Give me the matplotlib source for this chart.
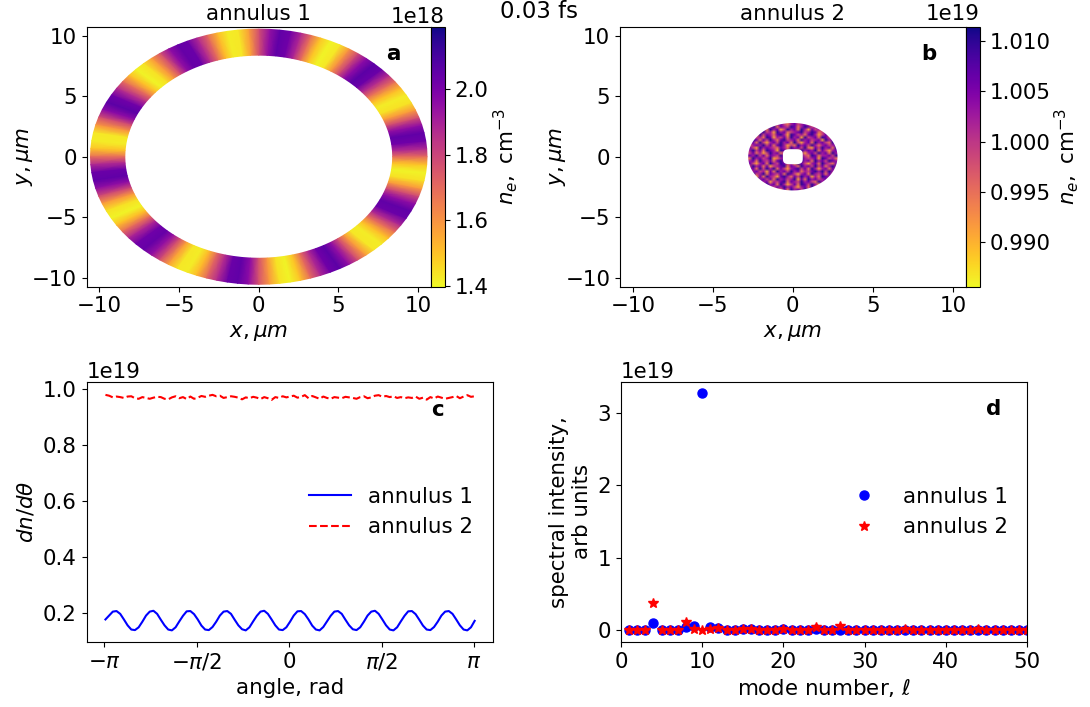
import numpy as np
import matplotlib
matplotlib.use('Agg')
import matplotlib.pyplot as plt
from matplotlib.path import Path
from matplotlib.patches import PathPatch

# electron density round annulus 1 (1e18 cm^-3)
ring_ne = [1.70, 1.88, 2.02, 2.05, 1.95, 1.77, 1.58, 1.44, 1.42, 1.51,
           1.69, 1.87, 2.03, 2.06, 1.96, 1.78, 1.59, 1.43, 1.41, 1.50,
           1.70, 1.89, 2.02, 2.05, 1.94, 1.77, 1.57, 1.43, 1.42, 1.52,
           1.71, 1.88, 2.03, 2.04, 1.95, 1.76, 1.58, 1.44, 1.41, 1.51,
           1.70, 1.87, 2.02, 2.06, 1.96, 1.77, 1.59, 1.43, 1.42, 1.50,
           1.69, 1.88, 2.03, 2.05, 1.95, 1.78, 1.58, 1.44, 1.41, 1.51,
           1.70, 1.89, 2.02, 2.04, 1.94, 1.77, 1.57, 1.43, 1.42, 1.52,
           1.71, 1.87, 2.03, 2.05, 1.96, 1.76, 1.59, 1.44, 1.41, 1.50,
           1.70, 1.88, 2.02, 2.06, 1.95, 1.77, 1.58, 1.43, 1.42, 1.51,
           1.69, 1.88, 2.03, 2.05, 1.95, 1.78, 1.58, 1.44, 1.41, 1.50, 1.70]

# speckle of panel b, levels 0-9, estimated by eye (row 0 is the top)
speckle = [
    '56756475675467567546756746',
    '67485768476587468756847567',
    '75637486735867486375648675',
    '48768563867456785687456786',
    '67385764786387564786357486',
    '76564873657486738567487564',
    '58747586478567486756738675',
    '67485367586748536748675486',
    '46768574786354867586467567',
    '75386765476486758437586748',
    '68574876387567486768475367',
    '57463586745878563675867486',
    '76857476586755775487466758',
    '48675683467855786567387564',
    '67486574786467486748675876',
    '75367486587563875367486547',
    '58674735678476486758574686',
    '67485868475367857486367475',
    '46756374867586746578685867',
    '78568476574875367486574756',
    '56374865378647586736487685',
    '67867574867568374867567467',
    '75486736578476586754867586',
    '48675867486357487586374675',
    '67384675768675367485867568',
    '56767486547486758674756475']
speckle_levels = [0.9860, 0.9875, 0.9890, 0.9915, 0.9950, 0.9990, 1.0025, 1.0060, 1.0095, 1.0113]

# panel c, 1e19 units
angle_lim = [-np.pi + 0.02, np.pi + 0.01]
dn_annulus1 = [0.178, 0.192, 0.206, 0.208, 0.198, 0.178, 0.157, 0.142, 0.140, 0.150,
               0.170, 0.192, 0.206, 0.209, 0.198, 0.177, 0.157, 0.142, 0.139, 0.150,
               0.171, 0.191, 0.207, 0.208, 0.197, 0.178, 0.156, 0.142, 0.140, 0.151,
               0.170, 0.192, 0.206, 0.208, 0.198, 0.177, 0.157, 0.143, 0.139, 0.150,
               0.171, 0.191, 0.206, 0.209, 0.198, 0.178, 0.157, 0.142, 0.140, 0.150,
               0.170, 0.192, 0.207, 0.208, 0.197, 0.178, 0.156, 0.142, 0.139, 0.151,
               0.171, 0.191, 0.206, 0.208, 0.198, 0.177, 0.157, 0.143, 0.140, 0.150,
               0.170, 0.192, 0.206, 0.209, 0.198, 0.178, 0.157, 0.142, 0.139, 0.150,
               0.171, 0.191, 0.207, 0.208, 0.197, 0.177, 0.156, 0.142, 0.140, 0.151,
               0.170, 0.192, 0.206, 0.208, 0.198, 0.178, 0.157, 0.142, 0.139, 0.150, 0.173]
dn_annulus2 = [0.980, 0.977, 0.971, 0.974, 0.972, 0.969, 0.974, 0.975, 0.968, 0.966,
               0.972, 0.969, 0.966, 0.970, 0.973, 0.972, 0.966, 0.964, 0.971, 0.975,
               0.968, 0.972, 0.965, 0.974, 0.966, 0.970, 0.976, 0.973, 0.977, 0.980,
               0.975, 0.977, 0.969, 0.972, 0.975, 0.973, 0.970, 0.964, 0.971, 0.968,
               0.973, 0.970, 0.965, 0.972, 0.968, 0.962, 0.972, 0.969, 0.975, 0.971,
               0.974, 0.977, 0.970, 0.973, 0.979, 0.968, 0.976, 0.971, 0.966, 0.974,
               0.969, 0.966, 0.972, 0.970, 0.968, 0.973, 0.971, 0.969, 0.966, 0.972,
               0.975, 0.968, 0.971, 0.977, 0.979, 0.973, 0.976, 0.972, 0.975, 0.969,
               0.972, 0.968, 0.971, 0.969, 0.974, 0.966, 0.970, 0.963, 0.972, 0.967,
               0.974, 0.970, 0.966, 0.969, 0.972, 0.976, 0.968, 0.974, 0.979, 0.973, 0.975]

# panel d, 1e19 units
modes = list(range(1, 51))
spec_annulus1 = [0.0, 0.0, 0.0, 0.10, 0.0, 0.0, 0.0, 0.04, 0.05, 3.28,
                 0.04, 0.03, 0.0, 0.0, 0.01, 0.02, 0.0, 0.0, 0.0, 0.01,
                 0.0, 0.0, 0.0, 0.01, 0.0, 0.0, 0.0, 0.0, 0.0, 0.0,
                 0.0, 0.0, 0.0, 0.0, 0.0, 0.0, 0.0, 0.0, 0.0, 0.0,
                 0.0, 0.0, 0.0, 0.0, 0.0, 0.0, 0.0, 0.0, 0.0, 0.0]
spec_annulus2 = [0.0, 0.0, 0.0, 0.38, 0.0, 0.0, 0.0, 0.11, 0.02, 0.0,
                 0.02, 0.03, 0.0, 0.0, 0.01, 0.01, 0.0, 0.0, 0.0, 0.02,
                 0.0, 0.0, 0.0, 0.04, 0.0, 0.0, 0.06, 0.0, 0.0, 0.0,
                 0.0, 0.0, 0.0, 0.0, 0.01, 0.0, 0.0, 0.0, 0.0, 0.0,
                 0.0, 0.0, 0.0, 0.01, 0.0, 0.0, 0.0, 0.0, 0.0, 0.0]

plt.rcParams['font.size'] = 15.4
plt.rcParams['mathtext.default'] = 'it'

W, H = 1090, 707
fig = plt.figure(figsize=(W / 100, H / 100), dpi=100)


def box(x0, y0, x1, y1):
    # pixel box to figure fractions, y measured from the top
    return [x0 / W, 1 - y1 / H, (x1 - x0) / W, (y1 - y0) / H]


ax_a = fig.add_axes(box(86.5, 26.7, 431, 286.7))
ax_b = fig.add_axes(box(620, 26.7, 965.7, 286.7))
ax_c = fig.add_axes(box(86.7, 381.7, 492.7, 642))
ax_d = fig.add_axes(box(621, 381.7, 1027, 642))
cax_a = fig.add_axes(box(431, 26.7, 445, 286.7))
cax_b = fig.add_axes(box(965.7, 26.7, 979.5, 286.7))

# panel a
theta = np.linspace(0, 2 * np.pi, len(ring_ne))
radii = np.array([8.4, 10.55])
X = np.outer(radii, np.cos(theta))
Y = np.outer(radii, np.sin(theta))
C = np.array([ring_ne, ring_ne]) * 1e18
m_a = ax_a.pcolormesh(X, Y, C, shading='gouraud', cmap='plasma_r', vmin=1.398e18, vmax=2.19e18)
ax_a.set_title('annulus 1', fontsize=15.4, pad=5)
cb_a = fig.colorbar(m_a, cax=cax_a)
cb_a.set_ticks([1.4e18, 1.6e18, 1.8e18, 2.0e18])

# panel b
grid = np.array([[speckle_levels[int(c)] for c in row] for row in speckle]) * 1e19
m_b = ax_b.imshow(grid, extent=[-2.8, 2.8, -2.8, 2.8], cmap='plasma_r', vmin=0.9856e19, vmax=1.01139e19,
                  interpolation='bilinear', aspect='auto')
t = np.linspace(0, 2 * np.pi, 120)
outer = np.c_[2.79 * np.cos(t), 2.79 * np.sin(t)]
inner = np.c_[0.62 * np.sign(np.cos(t)) * np.abs(np.cos(t)) ** 0.5,
              0.62 * np.sign(np.sin(t)) * np.abs(np.sin(t)) ** 0.5][::-1]
verts = np.r_[outer, inner]
codes = [Path.MOVETO] + [Path.LINETO] * 119 + [Path.MOVETO] + [Path.LINETO] * 119
clip = PathPatch(Path(verts, codes), transform=ax_b.transData, facecolor='none', edgecolor='none')
ax_b.add_patch(clip)
m_b.set_clip_path(clip)
ax_b.set_title('annulus 2', fontsize=15.4, pad=5)
cb_b = fig.colorbar(m_b, cax=cax_b)
cb_b.set_ticks([0.99e19, 0.995e19, 1.0e19, 1.005e19, 1.01e19])
cb_b.ax.set_yticklabels(['0.990', '0.995', '1.000', '1.005', '1.010'])
cb_b.ax.text(1.0, 1.012, '1e19', transform=cb_b.ax.transAxes, ha='right', va='bottom')

for ax, cb, pad in [(ax_a, cb_a, 2), (ax_b, cb_b, 1)]:
    ax.set_xlim(-10.8, 10.8)
    ax.set_ylim(-10.75, 10.75)
    ax.set_xticks([-10, -5, 0, 5, 10])
    ax.set_yticks([-10, -5, 0, 5, 10])
    ax.set_xlabel(r'$x,\mu m$', labelpad=5)
    ax.set_ylabel(r'$y,\mu m$', labelpad=-2)
    cb.set_label(r'$n_e,\ \mathrm{cm}^{-3}$', labelpad=pad)

# panel c
angle = np.linspace(angle_lim[0], angle_lim[1], len(dn_annulus1))
ax_c.plot(angle, np.array(dn_annulus1) * 1e19, color='blue', label='annulus 1')
ax_c.plot(angle, np.array(dn_annulus2) * 1e19, color='red', linestyle='--', label='annulus 2')
ax_c.set_xlim(-3.44, 3.458)
ax_c.set_ylim(0.0975e19, 1.027e19)
ax_c.set_xticks([-np.pi, -np.pi / 2, 0, np.pi / 2, np.pi])
ax_c.set_xticklabels([r'$-\pi$', r'$-\pi/2$', '0', r'$\pi/2$', r'$\pi$'])
ax_c.set_yticks([0.2e19, 0.4e19, 0.6e19, 0.8e19, 1.0e19])
ax_c.set_xlabel('angle, rad', labelpad=4)
ax_c.set_ylabel(r'$dn/d\theta$', labelpad=5)
ax_c.legend(frameon=False, loc='center right', bbox_to_anchor=(1.0, 0.5), fontsize=15.4)

# panel d
ax_d.plot(modes, np.array(spec_annulus1) * 1e19, 'o', color='blue', markersize=6.5, label='annulus 1')
ax_d.plot(modes, np.array(spec_annulus2) * 1e19, '*', color='red', markersize=7.5, label='annulus 2')
ax_d.set_xlim(0, 50)
ax_d.set_ylim(-0.166e19, 3.434e19)
ax_d.set_yticks([0, 1e19, 2e19, 3e19])
ax_d.set_xlabel(r'mode number, $\ell$', labelpad=4)
ax_d.set_ylabel('spectral intensity,\narb units', labelpad=4)
ax_d.legend(frameon=False, loc='center right', bbox_to_anchor=(1.0, 0.5), fontsize=15.4)

for letter, (px, py) in [('a', (393, 54)), ('b', (929, 54)), ('c', (437, 410)), ('d', (994, 409))]:
    fig.text(px / W, 1 - py / H, letter, fontweight='bold', ha='center', va='center', fontsize=15.4)

fig.text(539 / W, 1 - 11 / H, '0.03 fs', ha='center', va='center', fontsize=16.5)

fig.savefig('out.png', dpi=100)
